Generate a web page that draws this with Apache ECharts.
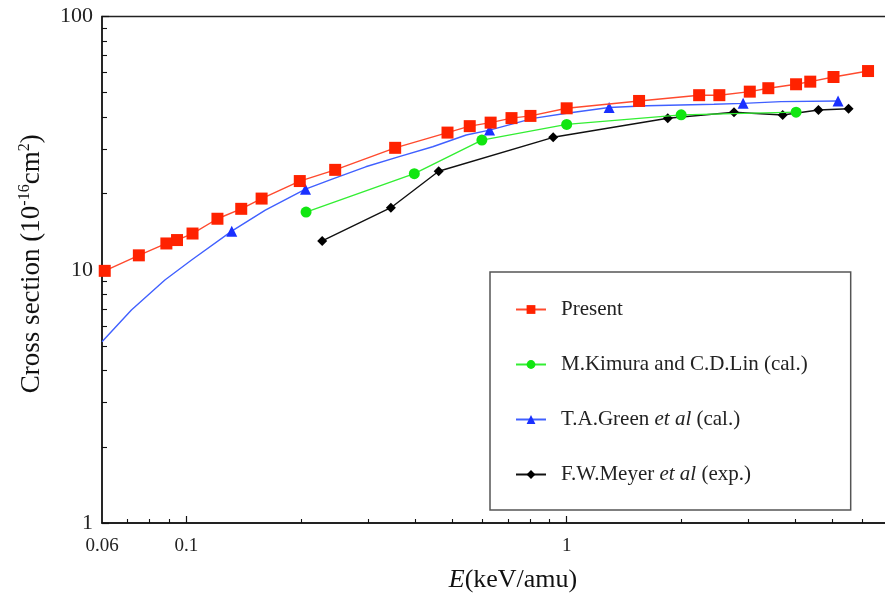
<!DOCTYPE html>
<html>
<head>
<meta charset="utf-8">
<script src="https://cdn.jsdelivr.net/npm/echarts@6/dist/echarts.min.js"></script>
<style>html,body{margin:0;padding:0;background:#fff}#c{width:885px;height:598px}</style>
</head>
<body>
<div id="c"></div>
<script>
// ---- data (E in keV/amu, cross section in 1e-16 cm^2) ----
const presentE = [0.061,0.075,0.0886,0.0945,0.1038,0.1207,0.1394,0.1577,0.1987,0.2462,0.354,0.486,0.556,0.631,0.716,0.803,1.0,1.55,2.23,2.52,3.03,3.39,4.01,4.37,5.03,6.2];
const presentS = [9.9,11.4,12.7,13.1,13.9,15.9,17.4,19.1,22.4,24.8,30.3,34.8,36.9,38.1,39.7,40.5,43.4,46.4,48.9,48.9,50.5,52.1,54.0,55.3,57.7,60.9];

const kimuraE = [0.2064,0.3975,0.5985,1.0,2.0,4.01];
const kimuraS = [16.9,23.95,32.5,37.5,40.9,41.9];

const greenE = [0.06,0.0717,0.0878,0.1032,0.1316,0.1613,0.2057,0.2417,0.2962,0.3627,0.4443,0.5443,0.627,0.816,1.0,1.293,1.627,2.439,2.91,3.66,5.17];
const greenS = [5.2,6.93,9.11,10.93,14.2,17.2,20.8,22.8,25.5,27.95,30.6,34.05,35.6,39.6,41.5,43.7,44.4,45.0,45.4,46.1,46.4];
const greenMarked = [0,0,0,0,1,0,1,0,0,0,0,0,1,0,0,1,0,0,1,0,1];

const meyerE = [0.2276,0.3449,0.4607,0.9216,1.844,2.754,3.698,4.591,5.511];
const meyerS = [12.99,17.58,24.48,33.34,39.63,41.85,40.83,42.73,43.24];

const xLabelVals = [0.06,0.1,1,10];
const xMajorTicks = [0.1,1,10];
const xMinorTicks = [0.07,0.08,0.09,0.2,0.3,0.4,0.5,0.6,0.7,0.8,0.9,2,3,4,5,6,7,8,9];
const yLabelVals = [1,10,100];
const yMinorTicks = [2,3,4,5,6,7,8,9,20,30,40,50,60,70,80,90];

const seriesNames = ['Present','M.Kimura and C.D.Lin (cal.)','T.A.Green et al (cal.)','F.W.Meyer et al (exp.)'];

// ---- chart ----
const FONT = 'Liberation Serif';
const pair = (xs, ys) => xs.map((x,i) => [x, ys[i]]);
const fmt = v => String(parseFloat(Number(v).toPrecision(6)));

const chart = echarts.init(document.getElementById('c'), null, {renderer:'canvas'});

const baseX = {
  type:'log', logBase:10, min:0.06, max:10, gridIndex:0, position:'bottom',
  splitLine:{show:false}
};
const baseY = {
  type:'log', logBase:10, min:1, max:100, gridIndex:0, position:'left',
  splitLine:{show:false}
};

chart.setOption({
  animation:false,
  backgroundColor:'#fff',
  textStyle:{fontFamily:FONT},
  grid:{left:102, top:16.5, right:-62, bottom:75, containLabel:false, outerBoundsMode:'none',
        show:true, borderColor:'#222', borderWidth:1.3, backgroundColor:'transparent'},
  xAxis:[
    Object.assign({}, baseX, {
      name:'{i|E}(keV/amu)', nameLocation:'middle', nameGap:44,
      nameTextStyle:{fontFamily:FONT, fontSize:26, color:'#111', padding:[0,23,0,0],
        rich:{i:{fontStyle:'italic', fontFamily:FONT, fontSize:26, color:'#111'}}},
      axisLine:{show:true, lineStyle:{color:'#111', width:1.5}},
      axisTick:{show:true, inside:true, length:7, customValues:xMajorTicks, lineStyle:{color:'#111', width:1.2}},
      axisLabel:{show:true, customValues:xLabelVals, margin:14, fontFamily:FONT, fontSize:19, color:'#222', formatter:v=>fmt(v)}
    }),
    Object.assign({}, baseX, {
      axisLine:{show:false},
      axisTick:{show:true, inside:true, length:4, customValues:xMinorTicks, lineStyle:{color:'#111', width:1.1}},
      axisLabel:{show:false}
    })
  ],
  yAxis:[
    Object.assign({}, baseY, {
      name:'Cross section (10{sup|-16}cm{sup|2})', nameLocation:'middle', nameGap:56, nameRotate:90,
      nameTextStyle:{fontFamily:FONT, fontSize:27, color:'#111', lineHeight:29, padding:[0,0,0,12],
        rich:{sup:{fontFamily:FONT, fontSize:16, color:'#111', verticalAlign:'top', lineHeight:16}}},
      axisLine:{show:true, lineStyle:{color:'#111', width:1.5}},
      axisTick:{show:true, inside:true, length:7, customValues:yLabelVals, lineStyle:{color:'#111', width:1.2}},
      axisLabel:{show:true, customValues:yLabelVals, margin:9, fontFamily:FONT, fontSize:22, color:'#222', formatter:v=>fmt(v)}
    }),
    Object.assign({}, baseY, {
      axisLine:{show:false},
      axisTick:{show:true, inside:true, length:5, customValues:yMinorTicks, lineStyle:{color:'#111', width:1.1}},
      axisLabel:{show:false}
    })
  ],
  legend:{
    orient:'vertical', left:490, top:272,
    padding:[27,43,25,25], itemGap:34,
    itemWidth:30, itemHeight:11,
    backgroundColor:'#fff', borderColor:'#555', borderWidth:1.5, borderRadius:0,
    data:seriesNames,
    formatter:n => n.replace(' et al ', ' {i|et al} '),
    textStyle:{fontFamily:FONT, fontSize:21, color:'#222', padding:[0,0,0,10],
      rich:{i:{fontStyle:'italic', fontFamily:FONT, fontSize:21, color:'#222'}}}
  },
  series:[
    {
      name:seriesNames[0], type:'line', xAxisIndex:0, yAxisIndex:0,
      data:pair(presentE, presentS),
      symbol:'rect', symbolSize:12, z:5,
      lineStyle:{color:'#ff4a2e', width:1.4},
      itemStyle:{color:'#ff2200'}
    },
    {
      name:seriesNames[1], type:'line', xAxisIndex:0, yAxisIndex:0,
      data:pair(kimuraE, kimuraS),
      symbol:'circle', symbolSize:11, z:3,
      lineStyle:{color:'#33ee33', width:1.4},
      itemStyle:{color:'#11e611'}
    },
    {
      name:seriesNames[2], type:'line', xAxisIndex:0, yAxisIndex:0,
      data:greenE.map((x,i) => greenMarked[i] ? {value:[x, greenS[i]]} : {value:[x, greenS[i]], symbol:'none'}),
      symbol:'triangle', symbolSize:11, z:4,
      lineStyle:{color:'#4060ff', width:1.4},
      itemStyle:{color:'#1a30ff'}
    },
    {
      name:seriesNames[3], type:'line', xAxisIndex:0, yAxisIndex:0,
      data:pair(meyerE, meyerS),
      symbol:'diamond', symbolSize:10, z:2,
      lineStyle:{color:'#111', width:1.4},
      itemStyle:{color:'#000'}
    }
  ]
});
</script>
</body>
</html>
